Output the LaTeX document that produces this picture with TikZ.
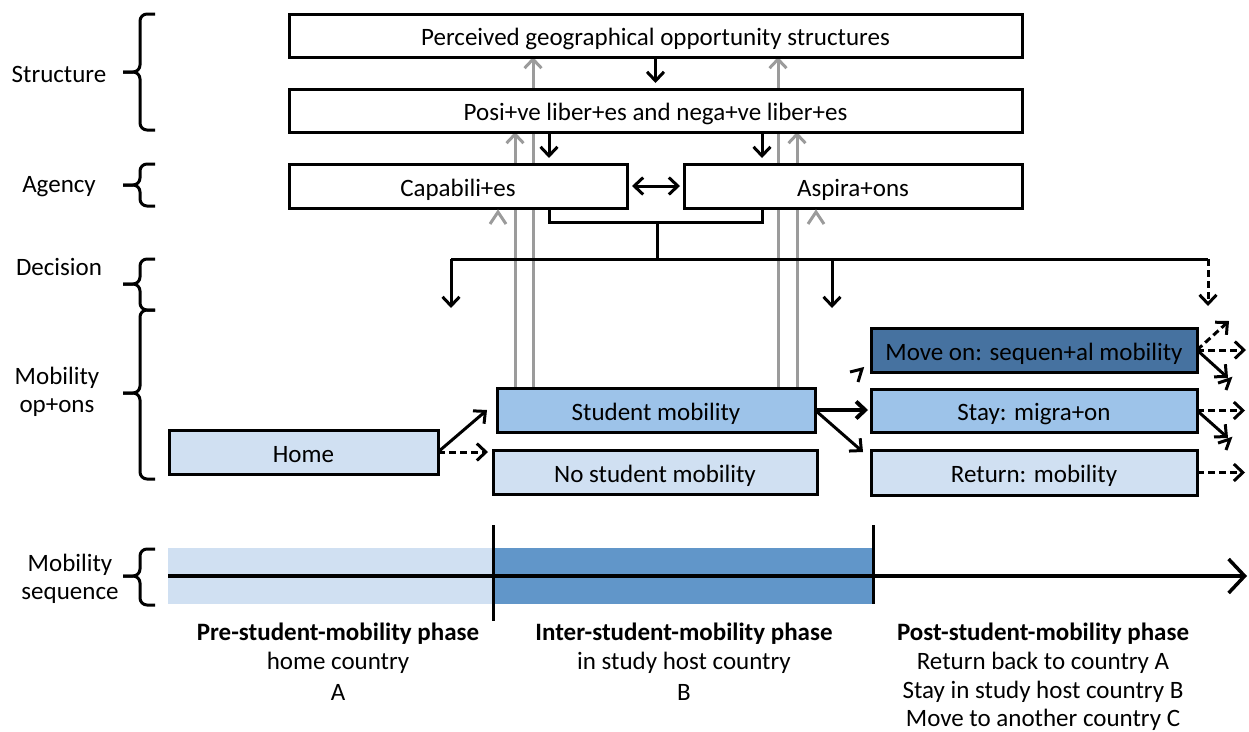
\documentclass[tikz,border=0pt]{standalone}
\usepackage{fontspec}
\setmainfont{Carlito}
\usetikzlibrary{arrows.meta,calc,backgrounds}
\definecolor{lightb}{RGB}{208,224,242}
\definecolor{midb}{RGB}{157,195,233}
\definecolor{darkb}{RGB}{70,114,160}
\definecolor{barb}{RGB}{97,150,201}
\definecolor{grayl}{RGB}{155,155,155}
\begin{document}
\begin{tikzpicture}[x=1pt,y=-1pt,font=\fontsize{25}{28}\selectfont,
  box/.style={draw,line width=3pt,inner sep=0pt,outer sep=0pt,fill=white,text height=22pt,text depth=2pt},
  arr/.style={line width=3pt,-{Straight Barb[length=9pt,width=17pt]}},
  darr/.style={line width=3pt,{Straight Barb[length=9pt,width=17pt]}-{Straight Barb[length=9pt,width=17pt]}},
  garr/.style={arr,draw=grayl},
  dasharr/.style={arr,dash pattern=on 7pt off 4pt},
  plain/.style={line width=3pt},
  brc/.style={line width=3pt,rounded corners=7pt},
  lbl/.style={align=center,font=\fontsize{25}{28}\selectfont},
  bld/.style={font=\fontsize{25}{28}\selectfont\bfseries},
  ph/.style={inner sep=0pt,outer sep=0pt,minimum height=56pt}]
\useasboundingbox (0,0) rectangle (1249,731);

% ---- boxes ----
\node[box,minimum width=733pt,minimum height=43pt] (P) at (655.5,35.5) {Perceived geographical opportunity structures};
\node[box,minimum width=733pt,minimum height=43pt] (L) at (655.5,110.5) {Posi+ve liber+es and nega+ve liber+es};
\node[box,minimum width=338pt,minimum height=44pt] (Cap) at (458,186) {Capabili+es};
\node[box,minimum width=338pt,minimum height=44pt] (Asp) at (853,186) {Aspira+ons};
\node[box,fill=lightb,minimum width=269pt,minimum height=44pt] (Home) at (303.5,452) {Home};
\node[box,fill=midb,minimum width=318pt,minimum height=44pt] (S) at (656,410) {Student mobility};
\node[box,fill=lightb,minimum width=324pt,minimum height=44pt] (NS) at (655,472) {No student mobility};
\node[box,fill=darkb,minimum width=326pt,minimum height=44pt] (MO) at (1034,350) {Move on: sequen+al mobility};
\node[box,fill=midb,minimum width=326pt,minimum height=43pt] (ST) at (1034,410.5) {Stay: migra+on};
\node[box,fill=lightb,minimum width=326pt,minimum height=45pt] (RT) at (1034,472.5) {Return: mobility};

% ---- grey feedback lines (behind boxes) ----
\coordinate (gx1) at (515,0);
\coordinate (gx2) at (533,0);
\coordinate (gx3) at (778,0);
\coordinate (gx4) at (797,0);
\begin{scope}[on background layer]
\draw[garr] (gx1 |- S.north) -- (gx1 |- L.south);
\draw[garr] (gx2 |- S.north) -- (gx2 |- P.south);
\draw[garr] (gx3 |- S.north) -- (gx3 |- P.south);
\draw[garr] (gx4 |- S.north) -- (gx4 |- L.south);
\end{scope}
\draw[grayl,line width=3pt] (490,224) -- (498,212) -- (506,224);
\draw[grayl,line width=3pt] (808,224) -- (816,212) -- (824,224);

% ---- structure / agency arrows ----
\coordinate (bx1) at (549,0);
\coordinate (bx2) at (762,0);
\draw[arr] (P.south) -- ($(P.south |- L.north)+(0,-6)$);
\draw[arr] (bx1 |- L.south) -- ($(bx1 |- Cap.north)+(0,-6)$);
\draw[arr] (bx2 |- L.south) -- ($(bx2 |- Asp.north)+(0,-6)$);
\draw[darr] ($(Cap.east)+(5,0)$) -- ($(Asp.west)+(-4,0)$);

% ---- decision ----
\coordinate (br) at (0,222);
\coordinate (dj) at (657,222);
\coordinate (dc) at (657,259);
\coordinate (dl) at (451,259);
\coordinate (dm) at (832,259);
\coordinate (dr) at (1208,259);
\coordinate (d1) at (451,308);
\coordinate (d2) at (832,308);
\coordinate (d3) at (1208,306);
\draw[plain] (bx1 |- Cap.south) -- (bx1 |- br) -- (bx2 |- br) -- (bx2 |- Asp.south);
\draw[plain] (dj) -- (dc);
\draw[plain] (dl) -- (dr);
\draw[arr] (dl) -- (d1);
\draw[arr] (dm) -- (d2);
\draw[dasharr] (dr) -- (d3);

% ---- mobility options arrows ----
\coordinate (ha) at (487,410);
\draw[arr] (Home.east) -- (ha);
\draw[dasharr] (Home.east) -- ($(NS.west |- Home.east)+(-5,0)$);
\draw[arr,line width=4pt] (S.east) -- ($(ST.west |- S.east)+(-3,0)$);
\draw[arr] (S.east) -- ($(RT.north west)+(-8,2)$);
\draw[plain] (850,372) -- (862,369) -- (858,382);

\coordinate (m1) at (1229,321);
\coordinate (m2) at (1246,350);
\coordinate (m3) at (1228,378);
\coordinate (s1) at (1245,410.5);
\coordinate (s2) at (1228,438);
\draw[dasharr] (MO.east) -- (m1);
\draw[dasharr] (MO.east) -- (m2);
\draw[arr] (MO.east) -- (m3);
\draw[plain] (1218,383) -- (1230,379) -- (1226,390);
\draw[dasharr] (ST.east) -- (s1);
\draw[arr] (ST.east) -- (s2);
\draw[plain] (1218,443) -- (1230,439) -- (1226,450);
\draw[dasharr] (RT.east) -- ($(RT.east)+(48,0)$);

% ---- timeline ----
\node[ph,fill=lightb,minimum width=325pt] (ph1) at (330.5,576) {};
\node[ph,fill=barb,minimum width=380pt] (ph2) at (683,576) {};
\coordinate (tend) at (1247,576);
\draw[line width=3.5pt,-{Straight Barb[length=16pt,width=34pt]}] (ph1.west) -- (tend);
\draw[plain] (ph2.west |- 0,525) -- (ph2.west |- 0,621);
\draw[plain] (ph2.east |- 0,525) -- (ph2.east |- 0,604);

\node[bld] (t1) at (338,634) {Pre-student-mobility phase};
\node (t1b) at (338,663) {home country};
\node (t1c) at (338,692) {A};
\node[bld] (t2) at (684,634) {Inter-student-mobility phase};
\node (t2b) at (684,663) {in study host country};
\node (t2c) at (684,692) {B};
\node[bld] (t3) at (1043,634) {Post-student-mobility phase};
\node (t3b) at (1043,663) {Return back to country A};
\node (t3c) at (1043,692) {Stay in study host country B};
\node (t3d) at (1043,720) {Move to another country C};

% ---- left labels and braces ----
\node[lbl] (lS) at (59,74) {Structure};
\node[lbl] (lA) at (59,187) {Agency};
\node[lbl] (lD) at (59,267) {Decision};
\node[lbl] (lO) at (57,392) {Mobility\\op+ons};
\node[lbl] (lQ) at (70,579) {Mobility\\sequence};

\draw[brc] (155,14) -- (140,14) -- (140,72) -- (123,72);
\draw[brc] (123,72) -- (140,72) -- (140,130) -- (155,130);
\draw[brc] (155,164) -- (140,164) -- (140,185) -- (123,185);
\draw[brc] (123,185) -- (140,185) -- (140,206) -- (155,206);
\draw[brc] (155,259) -- (140,259) -- (140,284) -- (123,284);
\draw[brc] (123,284) -- (140,284) -- (140,310) -- (155,310);
\draw[brc] (155,310) -- (140,310) -- (140,393) -- (123,393);
\draw[brc] (123,393) -- (140,393) -- (140,479) -- (155,479);
\draw[brc] (155,549) -- (140,549) -- (140,576) -- (123,576);
\draw[brc] (123,576) -- (140,576) -- (140,605) -- (155,605);
\end{tikzpicture}
\end{document}
